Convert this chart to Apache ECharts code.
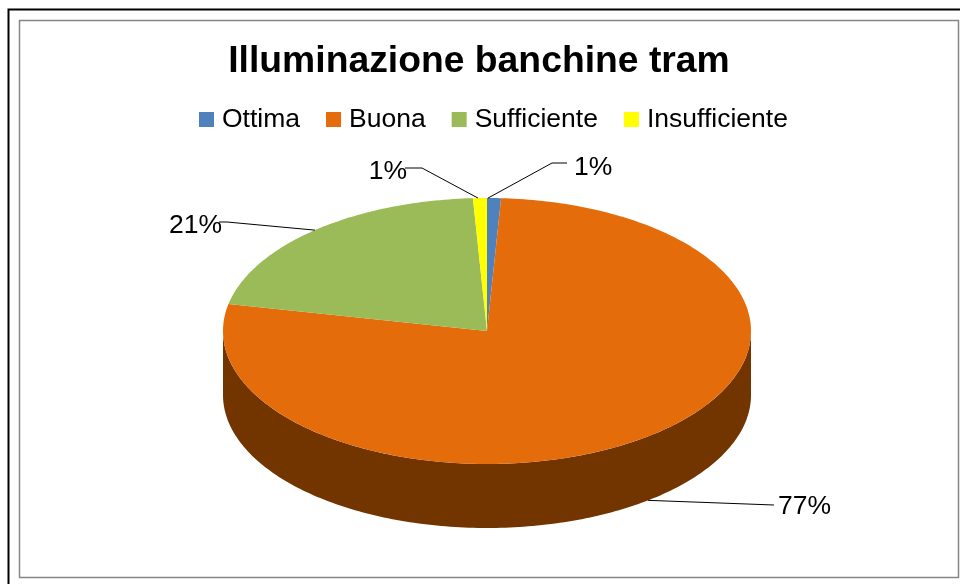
<!DOCTYPE html>
<html>
<head>
<meta charset="utf-8">
<style>
  html, body { margin: 0; padding: 0; background: #fff; }
  #chart { width: 960px; height: 584px; }
</style>
<script src="https://cdn.jsdelivr.net/npm/echarts@6/dist/echarts.min.js"></script>
</head>
<body>
<div id="chart"></div>
<script>
var categories = ['Ottima', 'Buona', 'Sufficiente', 'Insufficiente'];
var values = [0.85, 77.4, 20.9, 0.85];
var colors = ['#4F81BD', '#E46C0A', '#9BBB59', '#FFFF00'];
var sideColors = ['#284060', '#733500', '#4E5E2C', '#808000'];

// ellipse of the tilted pie
var cx = 487, cy = 331, rx = 264, ry = 133, depth = 64;
var fontFamily = '"Liberation Sans", Arial, sans-serif';

// elbow and text anchor of each data label, tip nudges the line end on the rim
var labelLayout = [
  { tip: -6, elbow: [552, 163], end: [567, 163], text: [574, 168], align: 'left' },
  { tip: 0, elbow: null, end: [774, 505], text: [778, 507], align: 'left' },
  { tip: 0, elbow: [227, 222], end: [219, 222], text: [222, 226], align: 'right' },
  { tip: -2, elbow: [422, 168], end: [405, 168], text: [407, 172], align: 'right' }
];

var total = values.reduce(function (a, b) { return a + b; }, 0);

function pointAt(deg, drop) {
  var t = deg * Math.PI / 180;
  return [cx + rx * Math.sin(t), cy - ry * Math.cos(t) + (drop || 0)];
}

function arcPoints(from, to, drop) {
  var pts = [];
  for (var d = from; d < to; d += 1) pts.push(pointAt(d, drop));
  pts.push(pointAt(to, drop));
  return pts;
}

function renderSlice(params, api) {
  var i = params.seriesIndex;
  var start = 0;
  for (var k = 0; k < i; k++) start += values[k] / total * 360;
  var end = start + api.value(0) / total * 360;
  var mid = (start + end) / 2;
  var children = [];

  // side wall, only the front half of the rim shows
  var a = Math.max(start, 90), b = Math.min(end, 270);
  if (b > a) {
    var wall = arcPoints(a, b, 0).concat(arcPoints(a, b, depth).reverse());
    children.push({
      type: 'polygon',
      shape: { points: wall },
      style: { fill: sideColors[i] }
    });
  }

  // top face
  children.push({
    type: 'polygon',
    shape: { points: [[cx, cy]].concat(arcPoints(start, end, 0)) },
    style: { fill: colors[i] }
  });

  // leader line and percentage
  var l = labelLayout[i];
  var onWall = mid > 90 && mid < 270;
  var tip = pointAt(mid, onWall ? depth : 0);
  var line = [[tip[0] + l.tip, tip[1]]];
  if (l.elbow) line.push(l.elbow);
  line.push(l.end);
  children.push({
    type: 'polyline',
    shape: { points: line },
    style: { stroke: '#000', lineWidth: 1, fill: null }
  });
  children.push({
    type: 'text',
    style: {
      x: l.text[0],
      y: l.text[1],
      text: Math.round(api.value(0) / total * 100) + '%',
      fill: '#000',
      font: '26.5px ' + fontFamily,
      textAlign: l.align,
      textVerticalAlign: 'middle'
    }
  });
  return { type: 'group', children: children };
}

var chart = echarts.init(document.getElementById('chart'));
chart.setOption({
  animation: false,
  color: colors,
  title: {
    text: 'Illuminazione banchine tram',
    left: 474,
    top: 38,
    textAlign: 'center',
    textStyle: { fontFamily: fontFamily, fontSize: 37.3, fontWeight: 'bold', color: '#000' }
  },
  legend: {
    data: categories,
    left: 199,
    top: 106,
    padding: 0,
    icon: 'rect',
    itemWidth: 15,
    itemHeight: 15,
    itemGap: 26,
    textStyle: { fontFamily: fontFamily, fontSize: 26.5, color: '#000', padding: [0, 0, 0, 3] }
  },
  graphic: [
    { type: 'rect', silent: true, shape: { x: 8.5, y: 9.5, width: 1000, height: 700 },
      style: { fill: null, stroke: '#000', lineWidth: 2 } },
    { type: 'rect', silent: true, shape: { x: 19.5, y: 20.5, width: 939, height: 557 },
      style: { fill: null, stroke: '#868686', lineWidth: 1.5 } }
  ],
  series: categories.map(function (name, i) {
    return {
      type: 'custom',
      name: name,
      coordinateSystem: 'none',
      silent: true,
      renderItem: renderSlice,
      data: [values[i]]
    };
  })
});
</script>
</body>
</html>
